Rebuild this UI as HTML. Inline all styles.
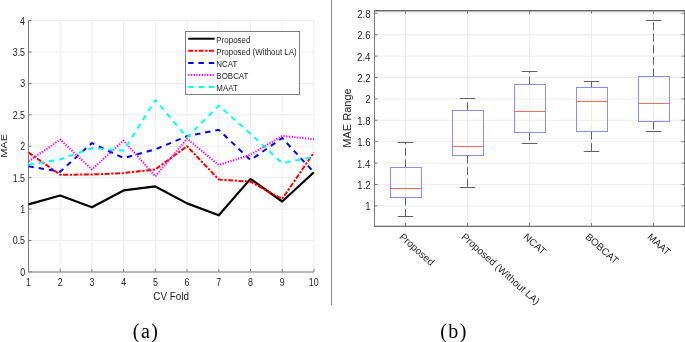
<!DOCTYPE html>
<html><head><meta charset="utf-8"><style>
html,body{margin:0;padding:0;background:#fff;width:685px;height:342px;overflow:hidden}
body{position:relative;font-family:"Liberation Sans",sans-serif}
</style></head><body>
<svg width="685" height="342" viewBox="0 0 685 342" style="position:absolute;left:0;top:0;will-change:transform">
<rect width="685" height="342" fill="#fff"/>
<line x1="28.50" y1="20.50" x2="28.50" y2="271.90" stroke="#ededed" stroke-width="1"/>
<line x1="60.21" y1="20.50" x2="60.21" y2="271.90" stroke="#ededed" stroke-width="1"/>
<line x1="91.92" y1="20.50" x2="91.92" y2="271.90" stroke="#ededed" stroke-width="1"/>
<line x1="123.63" y1="20.50" x2="123.63" y2="271.90" stroke="#ededed" stroke-width="1"/>
<line x1="155.34" y1="20.50" x2="155.34" y2="271.90" stroke="#ededed" stroke-width="1"/>
<line x1="187.06" y1="20.50" x2="187.06" y2="271.90" stroke="#ededed" stroke-width="1"/>
<line x1="218.77" y1="20.50" x2="218.77" y2="271.90" stroke="#ededed" stroke-width="1"/>
<line x1="250.48" y1="20.50" x2="250.48" y2="271.90" stroke="#ededed" stroke-width="1"/>
<line x1="282.19" y1="20.50" x2="282.19" y2="271.90" stroke="#ededed" stroke-width="1"/>
<line x1="313.90" y1="20.50" x2="313.90" y2="271.90" stroke="#ededed" stroke-width="1"/>
<line x1="28.50" y1="271.90" x2="313.90" y2="271.90" stroke="#ededed" stroke-width="1"/>
<line x1="28.50" y1="240.47" x2="313.90" y2="240.47" stroke="#ededed" stroke-width="1"/>
<line x1="28.50" y1="209.05" x2="313.90" y2="209.05" stroke="#ededed" stroke-width="1"/>
<line x1="28.50" y1="177.62" x2="313.90" y2="177.62" stroke="#ededed" stroke-width="1"/>
<line x1="28.50" y1="146.20" x2="313.90" y2="146.20" stroke="#ededed" stroke-width="1"/>
<line x1="28.50" y1="114.77" x2="313.90" y2="114.77" stroke="#ededed" stroke-width="1"/>
<line x1="28.50" y1="83.35" x2="313.90" y2="83.35" stroke="#ededed" stroke-width="1"/>
<line x1="28.50" y1="51.92" x2="313.90" y2="51.92" stroke="#ededed" stroke-width="1"/>
<line x1="28.50" y1="20.50" x2="313.90" y2="20.50" stroke="#ededed" stroke-width="1"/>
<line x1="28.50" y1="271.90" x2="28.50" y2="268.90" stroke="#7a7a7a" stroke-width="1"/>
<line x1="60.21" y1="271.90" x2="60.21" y2="268.90" stroke="#7a7a7a" stroke-width="1"/>
<line x1="91.92" y1="271.90" x2="91.92" y2="268.90" stroke="#7a7a7a" stroke-width="1"/>
<line x1="123.63" y1="271.90" x2="123.63" y2="268.90" stroke="#7a7a7a" stroke-width="1"/>
<line x1="155.34" y1="271.90" x2="155.34" y2="268.90" stroke="#7a7a7a" stroke-width="1"/>
<line x1="187.06" y1="271.90" x2="187.06" y2="268.90" stroke="#7a7a7a" stroke-width="1"/>
<line x1="218.77" y1="271.90" x2="218.77" y2="268.90" stroke="#7a7a7a" stroke-width="1"/>
<line x1="250.48" y1="271.90" x2="250.48" y2="268.90" stroke="#7a7a7a" stroke-width="1"/>
<line x1="282.19" y1="271.90" x2="282.19" y2="268.90" stroke="#7a7a7a" stroke-width="1"/>
<line x1="313.90" y1="271.90" x2="313.90" y2="268.90" stroke="#7a7a7a" stroke-width="1"/>
<line x1="28.50" y1="271.90" x2="31.50" y2="271.90" stroke="#7a7a7a" stroke-width="1"/>
<line x1="28.50" y1="240.47" x2="31.50" y2="240.47" stroke="#7a7a7a" stroke-width="1"/>
<line x1="28.50" y1="209.05" x2="31.50" y2="209.05" stroke="#7a7a7a" stroke-width="1"/>
<line x1="28.50" y1="177.62" x2="31.50" y2="177.62" stroke="#7a7a7a" stroke-width="1"/>
<line x1="28.50" y1="146.20" x2="31.50" y2="146.20" stroke="#7a7a7a" stroke-width="1"/>
<line x1="28.50" y1="114.77" x2="31.50" y2="114.77" stroke="#7a7a7a" stroke-width="1"/>
<line x1="28.50" y1="83.35" x2="31.50" y2="83.35" stroke="#7a7a7a" stroke-width="1"/>
<line x1="28.50" y1="51.92" x2="31.50" y2="51.92" stroke="#7a7a7a" stroke-width="1"/>
<line x1="28.50" y1="20.50" x2="31.50" y2="20.50" stroke="#7a7a7a" stroke-width="1"/>
<line x1="28.50" y1="20.50" x2="28.50" y2="271.90" stroke="#7a7a7a" stroke-width="1"/>
<line x1="28.50" y1="272.0" x2="313.90" y2="272.0" stroke="#7a7a7a" stroke-width="1"/>
<defs><clipPath id="cl"><rect x="0" y="0" width="331" height="300"/></clipPath></defs>
<g clip-path="url(#cl)">
<polyline points="28.50,204.34 60.21,195.54 91.92,207.16 123.63,190.45 155.34,186.42 187.06,203.39 218.77,215.33 250.48,178.88 282.19,201.51 313.90,172.28" fill="none" stroke="#000000" stroke-width="2.2" stroke-linejoin="round" stroke-linecap="butt"/>
<polyline points="28.50,152.48 60.21,174.73 91.92,174.48 123.63,173.04 155.34,169.45 187.06,146.20 218.77,179.51 250.48,181.71 282.19,198.99 313.90,152.48" fill="none" stroke="#ff0000" stroke-width="2.0" stroke-linejoin="round" stroke-linecap="butt" stroke-dasharray="5 1.6 2.3 1.5"/>
<polyline points="28.50,166.31 60.21,171.65 91.92,143.06 123.63,158.14 155.34,149.34 187.06,136.14 218.77,129.86 250.48,160.03 282.19,138.03 313.90,172.28" fill="none" stroke="#0000ff" stroke-width="2.0" stroke-linejoin="round" stroke-linecap="butt" stroke-dasharray="5.4 4.9"/>
<polyline points="28.50,161.28 60.21,139.60 91.92,169.45 123.63,140.54 155.34,176.37 187.06,138.66 218.77,165.05 250.48,154.68 282.19,135.83 313.90,139.29" fill="none" stroke="#ff00ff" stroke-width="2.0" stroke-linejoin="round" stroke-linecap="butt" stroke-dasharray="1.3 1.4"/>
<polyline points="28.50,164.74 60.21,159.40 91.92,148.09 123.63,150.60 155.34,100.01 187.06,137.40 218.77,105.66 250.48,133.63 282.19,163.17 313.90,156.88" fill="none" stroke="#00ffff" stroke-width="2.0" stroke-linejoin="round" stroke-linecap="butt" stroke-dasharray="5.4 4.9"/>
</g>
<text transform="translate(20.13,275.90) scale(0.870,1)" font-family='"Liberation Sans", sans-serif' font-size="10.2" fill="#262626" letter-spacing="0">0</text>
<text transform="translate(12.72,244.47) scale(0.870,1)" font-family='"Liberation Sans", sans-serif' font-size="10.2" fill="#262626" letter-spacing="0">0.5</text>
<text transform="translate(20.22,213.05) scale(0.870,1)" font-family='"Liberation Sans", sans-serif' font-size="10.2" fill="#262626" letter-spacing="0">1</text>
<text transform="translate(12.72,181.62) scale(0.870,1)" font-family='"Liberation Sans", sans-serif' font-size="10.2" fill="#262626" letter-spacing="0">1.5</text>
<text transform="translate(20.22,150.20) scale(0.870,1)" font-family='"Liberation Sans", sans-serif' font-size="10.2" fill="#262626" letter-spacing="0">2</text>
<text transform="translate(12.72,118.77) scale(0.870,1)" font-family='"Liberation Sans", sans-serif' font-size="10.2" fill="#262626" letter-spacing="0">2.5</text>
<text transform="translate(20.17,87.35) scale(0.870,1)" font-family='"Liberation Sans", sans-serif' font-size="10.2" fill="#262626" letter-spacing="0">3</text>
<text transform="translate(12.72,55.92) scale(0.870,1)" font-family='"Liberation Sans", sans-serif' font-size="10.2" fill="#262626" letter-spacing="0">3.5</text>
<text transform="translate(20.04,24.50) scale(0.870,1)" font-family='"Liberation Sans", sans-serif' font-size="10.2" fill="#262626" letter-spacing="0">4</text>
<text transform="translate(25.93,286.00) scale(0.870,1)" font-family='"Liberation Sans", sans-serif' font-size="10.2" fill="#262626" letter-spacing="0">1</text>
<text transform="translate(57.75,286.00) scale(0.870,1)" font-family='"Liberation Sans", sans-serif' font-size="10.2" fill="#262626" letter-spacing="0">2</text>
<text transform="translate(89.48,286.00) scale(0.870,1)" font-family='"Liberation Sans", sans-serif' font-size="10.2" fill="#262626" letter-spacing="0">3</text>
<text transform="translate(121.19,286.00) scale(0.870,1)" font-family='"Liberation Sans", sans-serif' font-size="10.2" fill="#262626" letter-spacing="0">4</text>
<text transform="translate(152.88,286.00) scale(0.870,1)" font-family='"Liberation Sans", sans-serif' font-size="10.2" fill="#262626" letter-spacing="0">5</text>
<text transform="translate(184.57,286.00) scale(0.870,1)" font-family='"Liberation Sans", sans-serif' font-size="10.2" fill="#262626" letter-spacing="0">6</text>
<text transform="translate(216.30,286.00) scale(0.870,1)" font-family='"Liberation Sans", sans-serif' font-size="10.2" fill="#262626" letter-spacing="0">7</text>
<text transform="translate(247.99,286.00) scale(0.870,1)" font-family='"Liberation Sans", sans-serif' font-size="10.2" fill="#262626" letter-spacing="0">8</text>
<text transform="translate(279.73,286.00) scale(0.870,1)" font-family='"Liberation Sans", sans-serif' font-size="10.2" fill="#262626" letter-spacing="0">9</text>
<text transform="translate(308.82,286.00) scale(0.870,1)" font-family='"Liberation Sans", sans-serif' font-size="10.2" fill="#262626" letter-spacing="0">10</text>
<text transform="translate(153.30,300.20) scale(0.884,1)" font-family='"Liberation Sans", sans-serif' font-size="11.2" fill="#262626" letter-spacing="0">CV Fold</text>
<text transform="translate(7.35,145.95) scale(0.87,1) rotate(-90)" font-family='"Liberation Sans", sans-serif' font-size="11" text-anchor="middle" fill="#262626">MAE</text>
<rect x="185.5" y="31.5" width="114.0" height="63.0" fill="#fff" stroke="#7f7f7f" stroke-width="1"/>
<line x1="188.2" y1="38.70" x2="214.6" y2="38.70" stroke="#000" stroke-width="2"/>
<text transform="translate(216.36,42.70) scale(0.874,1)" font-family='"Liberation Sans", sans-serif' font-size="9.1" fill="#262626" letter-spacing="0">Proposed</text>
<line x1="188.2" y1="50.80" x2="214.6" y2="50.80" stroke="#ff0000" stroke-width="2" stroke-dasharray="5 1.6 2.3 1.5"/>
<text transform="translate(216.36,54.80) scale(0.874,1)" font-family='"Liberation Sans", sans-serif' font-size="9.1" fill="#262626" letter-spacing="0">Proposed (Without LA)</text>
<line x1="188.2" y1="62.90" x2="214.6" y2="62.90" stroke="#0000ff" stroke-width="2" stroke-dasharray="5.4 4.9"/>
<text transform="translate(216.36,66.90) scale(0.874,1)" font-family='"Liberation Sans", sans-serif' font-size="9.1" fill="#262626" letter-spacing="0">NCAT</text>
<line x1="188.2" y1="75.00" x2="214.6" y2="75.00" stroke="#ff00ff" stroke-width="2" stroke-dasharray="1.3 1.4"/>
<text transform="translate(216.36,79.00) scale(0.874,1)" font-family='"Liberation Sans", sans-serif' font-size="9.1" fill="#262626" letter-spacing="0">BOBCAT</text>
<line x1="188.2" y1="87.10" x2="214.6" y2="87.10" stroke="#00ffff" stroke-width="2" stroke-dasharray="5.4 4.9"/>
<text transform="translate(216.36,91.10) scale(0.874,1)" font-family='"Liberation Sans", sans-serif' font-size="9.1" fill="#262626" letter-spacing="0">MAAT</text>
<line x1="331.5" y1="0" x2="331.5" y2="305" stroke="#8c8c8c" stroke-width="1"/>
<line x1="405.50" y1="10.70" x2="405.50" y2="226.00" stroke="#ededed" stroke-width="1"/>
<line x1="467.50" y1="10.70" x2="467.50" y2="226.00" stroke="#ededed" stroke-width="1"/>
<line x1="529.50" y1="10.70" x2="529.50" y2="226.00" stroke="#ededed" stroke-width="1"/>
<line x1="591.50" y1="10.70" x2="591.50" y2="226.00" stroke="#ededed" stroke-width="1"/>
<line x1="653.50" y1="10.70" x2="653.50" y2="226.00" stroke="#ededed" stroke-width="1"/>
<line x1="374.50" y1="205.90" x2="684.50" y2="205.90" stroke="#ededed" stroke-width="1"/>
<line x1="374.50" y1="184.50" x2="684.50" y2="184.50" stroke="#ededed" stroke-width="1"/>
<line x1="374.50" y1="163.10" x2="684.50" y2="163.10" stroke="#ededed" stroke-width="1"/>
<line x1="374.50" y1="141.70" x2="684.50" y2="141.70" stroke="#ededed" stroke-width="1"/>
<line x1="374.50" y1="120.30" x2="684.50" y2="120.30" stroke="#ededed" stroke-width="1"/>
<line x1="374.50" y1="98.90" x2="684.50" y2="98.90" stroke="#ededed" stroke-width="1"/>
<line x1="374.50" y1="77.50" x2="684.50" y2="77.50" stroke="#ededed" stroke-width="1"/>
<line x1="374.50" y1="56.10" x2="684.50" y2="56.10" stroke="#ededed" stroke-width="1"/>
<line x1="374.50" y1="34.70" x2="684.50" y2="34.70" stroke="#ededed" stroke-width="1"/>
<line x1="374.50" y1="13.30" x2="684.50" y2="13.30" stroke="#ededed" stroke-width="1"/>
<line x1="405.50" y1="226.00" x2="405.50" y2="223.00" stroke="#7a7a7a" stroke-width="1"/>
<line x1="405.50" y1="10.70" x2="405.50" y2="13.70" stroke="#7a7a7a" stroke-width="1"/>
<line x1="467.50" y1="226.00" x2="467.50" y2="223.00" stroke="#7a7a7a" stroke-width="1"/>
<line x1="467.50" y1="10.70" x2="467.50" y2="13.70" stroke="#7a7a7a" stroke-width="1"/>
<line x1="529.50" y1="226.00" x2="529.50" y2="223.00" stroke="#7a7a7a" stroke-width="1"/>
<line x1="529.50" y1="10.70" x2="529.50" y2="13.70" stroke="#7a7a7a" stroke-width="1"/>
<line x1="591.50" y1="226.00" x2="591.50" y2="223.00" stroke="#7a7a7a" stroke-width="1"/>
<line x1="591.50" y1="10.70" x2="591.50" y2="13.70" stroke="#7a7a7a" stroke-width="1"/>
<line x1="653.50" y1="226.00" x2="653.50" y2="223.00" stroke="#7a7a7a" stroke-width="1"/>
<line x1="653.50" y1="10.70" x2="653.50" y2="13.70" stroke="#7a7a7a" stroke-width="1"/>
<line x1="374.50" y1="205.90" x2="377.50" y2="205.90" stroke="#7a7a7a" stroke-width="1"/>
<line x1="684.50" y1="205.90" x2="681.50" y2="205.90" stroke="#7a7a7a" stroke-width="1"/>
<line x1="374.50" y1="184.50" x2="377.50" y2="184.50" stroke="#7a7a7a" stroke-width="1"/>
<line x1="684.50" y1="184.50" x2="681.50" y2="184.50" stroke="#7a7a7a" stroke-width="1"/>
<line x1="374.50" y1="163.10" x2="377.50" y2="163.10" stroke="#7a7a7a" stroke-width="1"/>
<line x1="684.50" y1="163.10" x2="681.50" y2="163.10" stroke="#7a7a7a" stroke-width="1"/>
<line x1="374.50" y1="141.70" x2="377.50" y2="141.70" stroke="#7a7a7a" stroke-width="1"/>
<line x1="684.50" y1="141.70" x2="681.50" y2="141.70" stroke="#7a7a7a" stroke-width="1"/>
<line x1="374.50" y1="120.30" x2="377.50" y2="120.30" stroke="#7a7a7a" stroke-width="1"/>
<line x1="684.50" y1="120.30" x2="681.50" y2="120.30" stroke="#7a7a7a" stroke-width="1"/>
<line x1="374.50" y1="98.90" x2="377.50" y2="98.90" stroke="#7a7a7a" stroke-width="1"/>
<line x1="684.50" y1="98.90" x2="681.50" y2="98.90" stroke="#7a7a7a" stroke-width="1"/>
<line x1="374.50" y1="77.50" x2="377.50" y2="77.50" stroke="#7a7a7a" stroke-width="1"/>
<line x1="684.50" y1="77.50" x2="681.50" y2="77.50" stroke="#7a7a7a" stroke-width="1"/>
<line x1="374.50" y1="56.10" x2="377.50" y2="56.10" stroke="#7a7a7a" stroke-width="1"/>
<line x1="684.50" y1="56.10" x2="681.50" y2="56.10" stroke="#7a7a7a" stroke-width="1"/>
<line x1="374.50" y1="34.70" x2="377.50" y2="34.70" stroke="#7a7a7a" stroke-width="1"/>
<line x1="684.50" y1="34.70" x2="681.50" y2="34.70" stroke="#7a7a7a" stroke-width="1"/>
<line x1="374.50" y1="13.30" x2="377.50" y2="13.30" stroke="#7a7a7a" stroke-width="1"/>
<line x1="684.50" y1="13.30" x2="681.50" y2="13.30" stroke="#7a7a7a" stroke-width="1"/>
<line x1="374.5" y1="10.75" x2="685.0" y2="10.75" stroke="#6a6a6a" stroke-width="1.6"/>
<line x1="374.0" y1="226.3" x2="685.0" y2="226.3" stroke="#6e6e6e" stroke-width="1.2"/>
<line x1="374.5" y1="10" x2="374.5" y2="226.5" stroke="#7a7a7a" stroke-width="1"/>
<line x1="684.5" y1="10" x2="684.5" y2="226.5" stroke="#7a7a7a" stroke-width="1"/>
<line x1="405.50" y1="167.50" x2="405.50" y2="142.50" stroke="#606060" stroke-width="1" stroke-dasharray="8 3.6"/>
<line x1="405.50" y1="197.50" x2="405.50" y2="216.50" stroke="#606060" stroke-width="1" stroke-dasharray="8 3.6"/>
<line x1="397.75" y1="142.50" x2="413.25" y2="142.50" stroke="#606060" stroke-width="1"/>
<line x1="397.75" y1="216.50" x2="413.25" y2="216.50" stroke="#606060" stroke-width="1"/>
<rect x="390.50" y="167.50" width="31.00" height="30.00" fill="none" stroke="#8c8cff" stroke-width="1"/>
<line x1="390.50" y1="188.50" x2="421.50" y2="188.50" stroke="#ff6666" stroke-width="1"/>
<line x1="467.50" y1="110.50" x2="467.50" y2="98.50" stroke="#606060" stroke-width="1" stroke-dasharray="8 3.6"/>
<line x1="467.50" y1="155.50" x2="467.50" y2="187.50" stroke="#606060" stroke-width="1" stroke-dasharray="8 3.6"/>
<line x1="459.75" y1="98.50" x2="475.25" y2="98.50" stroke="#606060" stroke-width="1"/>
<line x1="459.75" y1="187.50" x2="475.25" y2="187.50" stroke="#606060" stroke-width="1"/>
<rect x="452.50" y="110.50" width="31.00" height="45.00" fill="none" stroke="#8c8cff" stroke-width="1"/>
<line x1="452.50" y1="146.50" x2="483.50" y2="146.50" stroke="#ff6666" stroke-width="1"/>
<line x1="529.50" y1="84.50" x2="529.50" y2="71.50" stroke="#606060" stroke-width="1" stroke-dasharray="8 3.6"/>
<line x1="529.50" y1="132.50" x2="529.50" y2="143.50" stroke="#606060" stroke-width="1" stroke-dasharray="8 3.6"/>
<line x1="521.75" y1="71.50" x2="537.25" y2="71.50" stroke="#606060" stroke-width="1"/>
<line x1="521.75" y1="143.50" x2="537.25" y2="143.50" stroke="#606060" stroke-width="1"/>
<rect x="514.50" y="84.50" width="31.00" height="48.00" fill="none" stroke="#8c8cff" stroke-width="1"/>
<line x1="514.50" y1="111.50" x2="545.50" y2="111.50" stroke="#ff6666" stroke-width="1"/>
<line x1="591.50" y1="87.50" x2="591.50" y2="81.50" stroke="#606060" stroke-width="1" stroke-dasharray="8 3.6"/>
<line x1="591.50" y1="131.50" x2="591.50" y2="151.50" stroke="#606060" stroke-width="1" stroke-dasharray="8 3.6"/>
<line x1="583.75" y1="81.50" x2="599.25" y2="81.50" stroke="#606060" stroke-width="1"/>
<line x1="583.75" y1="151.50" x2="599.25" y2="151.50" stroke="#606060" stroke-width="1"/>
<rect x="576.50" y="87.50" width="31.00" height="44.00" fill="none" stroke="#8c8cff" stroke-width="1"/>
<line x1="576.50" y1="101.50" x2="607.50" y2="101.50" stroke="#ff6666" stroke-width="1"/>
<line x1="653.50" y1="76.50" x2="653.50" y2="20.50" stroke="#606060" stroke-width="1" stroke-dasharray="8 3.6"/>
<line x1="653.50" y1="121.50" x2="653.50" y2="131.50" stroke="#606060" stroke-width="1" stroke-dasharray="8 3.6"/>
<line x1="645.75" y1="20.50" x2="661.25" y2="20.50" stroke="#606060" stroke-width="1"/>
<line x1="645.75" y1="131.50" x2="661.25" y2="131.50" stroke="#606060" stroke-width="1"/>
<rect x="638.50" y="76.50" width="31.00" height="45.00" fill="none" stroke="#8c8cff" stroke-width="1"/>
<line x1="638.50" y1="103.50" x2="669.50" y2="103.50" stroke="#ff6666" stroke-width="1"/>
<text transform="translate(365.34,210.40) scale(0.900,1)" font-family='"Liberation Sans", sans-serif' font-size="10.7" fill="#262626" letter-spacing="0">1</text>
<text transform="translate(357.30,189.00) scale(0.900,1)" font-family='"Liberation Sans", sans-serif' font-size="10.7" fill="#262626" letter-spacing="0">1.2</text>
<text transform="translate(357.10,167.60) scale(0.900,1)" font-family='"Liberation Sans", sans-serif' font-size="10.7" fill="#262626" letter-spacing="0">1.4</text>
<text transform="translate(357.25,146.20) scale(0.900,1)" font-family='"Liberation Sans", sans-serif' font-size="10.7" fill="#262626" letter-spacing="0">1.6</text>
<text transform="translate(357.20,124.80) scale(0.900,1)" font-family='"Liberation Sans", sans-serif' font-size="10.7" fill="#262626" letter-spacing="0">1.8</text>
<text transform="translate(365.34,103.40) scale(0.900,1)" font-family='"Liberation Sans", sans-serif' font-size="10.7" fill="#262626" letter-spacing="0">2</text>
<text transform="translate(357.30,82.00) scale(0.900,1)" font-family='"Liberation Sans", sans-serif' font-size="10.7" fill="#262626" letter-spacing="0">2.2</text>
<text transform="translate(357.10,60.60) scale(0.900,1)" font-family='"Liberation Sans", sans-serif' font-size="10.7" fill="#262626" letter-spacing="0">2.4</text>
<text transform="translate(357.25,39.20) scale(0.900,1)" font-family='"Liberation Sans", sans-serif' font-size="10.7" fill="#262626" letter-spacing="0">2.6</text>
<text transform="translate(357.20,17.80) scale(0.900,1)" font-family='"Liberation Sans", sans-serif' font-size="10.7" fill="#262626" letter-spacing="0">2.8</text>
<text transform="translate(350.8,118) rotate(-90)" font-family='"Liberation Sans", sans-serif' font-size="11" text-anchor="middle" fill="#262626">MAE Range</text>
<text transform="translate(403.50,232.3) rotate(41.9)" font-family='"Liberation Sans", sans-serif' font-size="10" text-anchor="start" dominant-baseline="hanging" fill="#262626">Proposed</text>
<text transform="translate(465.50,232.3) rotate(41.9)" font-family='"Liberation Sans", sans-serif' font-size="10" text-anchor="start" dominant-baseline="hanging" fill="#262626">Proposed (Without LA)</text>
<text transform="translate(527.50,232.3) rotate(41.9)" font-family='"Liberation Sans", sans-serif' font-size="10" text-anchor="start" dominant-baseline="hanging" fill="#262626">NCAT</text>
<text transform="translate(589.50,232.3) rotate(41.9)" font-family='"Liberation Sans", sans-serif' font-size="10" text-anchor="start" dominant-baseline="hanging" fill="#262626">BOBCAT</text>
<text transform="translate(651.50,232.3) rotate(41.9)" font-family='"Liberation Sans", sans-serif' font-size="10" text-anchor="start" dominant-baseline="hanging" fill="#262626">MAAT</text>
<text transform="translate(132.85,337.50) scale(1.000,1)" font-family='"Liberation Serif", serif' font-size="20" fill="#000" letter-spacing="1.375">(a)</text>
<text transform="translate(440.20,337.50) scale(1.000,1)" font-family='"Liberation Serif", serif' font-size="20" fill="#000" letter-spacing="1.4">(b)</text>
</svg>
</body></html>
